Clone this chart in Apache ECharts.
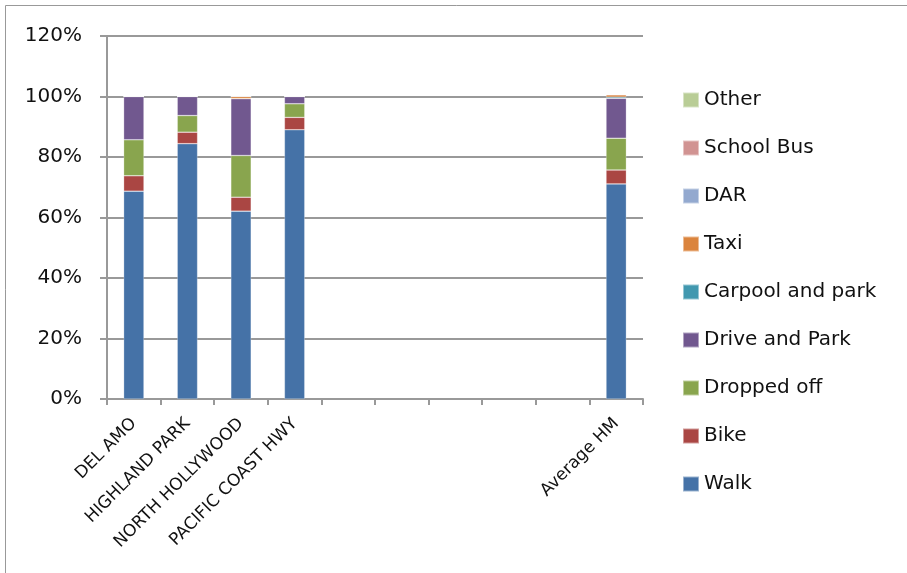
<!DOCTYPE html>
<html><head><meta charset="utf-8">
<script src="https://cdn.jsdelivr.net/npm/echarts@6/dist/echarts.min.js"></script>
<style>html,body{margin:0;padding:0;background:#fff}#c{width:907px;height:573px}</style>
</head><body><div id="c"></div>
<script>
const categories = ['DEL AMO','HIGHLAND PARK','NORTH HOLLYWOOD','PACIFIC COAST HWY','','','','','','Average HM'];
const walk     = [68.7, 84.4, 62.1, 89.0, null, null, null, null, null, 71.1];
const bike     = [5.1, 3.8, 4.6, 4.1, null, null, null, null, null, 4.6];
const droppedOff = [11.9, 5.5, 13.8, 4.5, null, null, null, null, null, 10.5];
const driveAndPark = [14.3, 6.3, 18.8, 2.4, null, null, null, null, null, 13.2];
const carpoolAndPark = [0, 0, 0, 0, null, null, null, null, null, 0.4];
const taxi     = [0, 0, 0.7, 0, null, null, null, null, null, 0.8];
const dar      = [0, 0, 0, 0, null, null, null, null, null, 0];
const schoolBus = [0, 0, 0, 0, null, null, null, null, null, 0];
const other    = [0, 0, 0, 0, null, null, null, null, null, 0];
const yTicks = [0, 20, 40, 60, 80, 100, 120];

const seriesDefs = [
  ['Walk', walk, '#4572A7'],
  ['Bike', bike, '#AA4643'],
  ['Dropped off', droppedOff, '#89A54E'],
  ['Drive and Park', driveAndPark, '#71588F'],
  ['Carpool and park', carpoolAndPark, '#4198AF'],
  ['Taxi', taxi, '#DB843D'],
  ['DAR', dar, '#93A9CF'],
  ['School Bus', schoolBus, '#D19392'],
  ['Other', other, '#B9CD96']
];
const font = '"DejaVu Sans", sans-serif';
const chart = echarts.init(document.getElementById('c'), null, {renderer:'canvas'});
chart.setOption({
  animation: false,
  graphic: [{type:'rect', shape:{x:5.5,y:5.5,width:1000,height:1000}, style:{fill:'none', stroke:'#999', lineWidth:1}}],
  grid: {left:107, right:264, top:36, bottom:174, containLabel:false},
  legend: {
    orient:'vertical', left:677, top:85, itemWidth:16, itemHeight:15, itemGap:28,
    icon:'rect', data: seriesDefs.map(d=>d[0]).reverse(),
    textStyle:{fontFamily:font, fontSize:20, color:'#111', lineHeight:20}
  },
  xAxis: {
    type:'category', data:categories, boundaryGap:true,
    axisLine:{lineStyle:{color:'#999', width:2}},
    axisTick:{show:true, length:6, interval:0, lineStyle:{color:'#999', width:2}},
    axisLabel:{interval:0, rotate:45, fontFamily:font, fontSize:17, color:'#111', margin:22}
  },
  yAxis: {
    type:'value', min:yTicks[0], max:yTicks[yTicks.length-1], interval:20,
    axisLine:{show:true, lineStyle:{color:'#999', width:2}},
    axisTick:{show:true, length:7, lineStyle:{color:'#999', width:2}},
    splitLine:{lineStyle:{color:'#999', width:2}},
    axisLabel:{formatter:'{value}%', fontFamily:font, fontSize:20, color:'#111', margin:25}
  },
  series: seriesDefs.map(d=>({
    name:d[0], type:'bar', stack:'total', data:d[1], barWidth:'38%',
    itemStyle:{color:d[2], borderColor:'rgba(255,255,255,0.45)', borderWidth:0.6}
  }))
});
</script></body></html>
